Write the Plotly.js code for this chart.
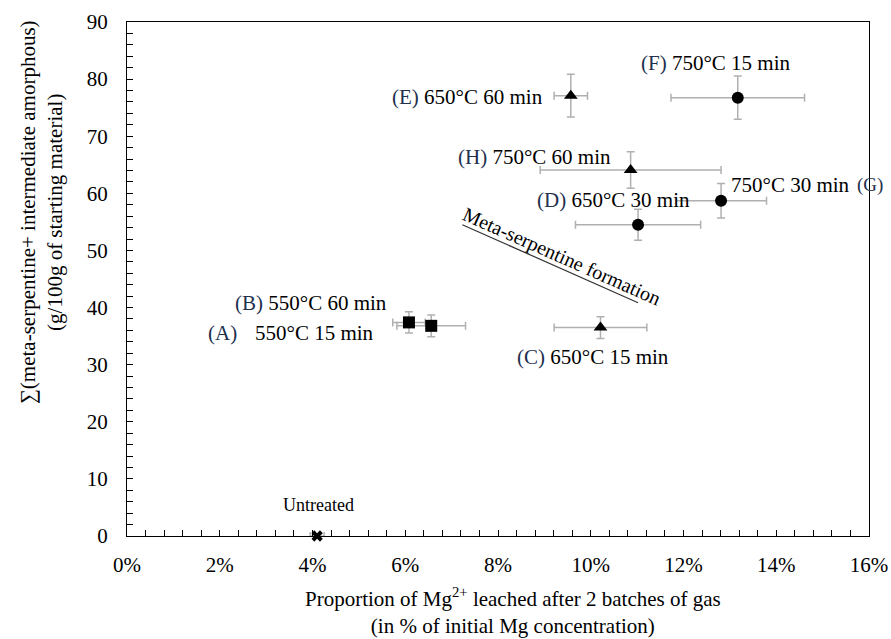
<!DOCTYPE html>
<html>
<head>
<meta charset="utf-8">
<script src="https://cdn.plot.ly/plotly-3.0.1.min.js"></script>
<style>html,body{margin:0;padding:0;background:#fff}#chart{width:891px;height:639px}</style>
</head>
<body>
<div id="chart"></div>
<script>
// Squares: (A) 550°C 15 min, (B) 550°C 60 min
const sqX = [6.56, 6.08];
const sqY = [36.8, 37.4];
const sqXErr = [0.74, 0.35];
const sqYErr = [1.9, 1.85];
// Triangles: (C) 650°C 15 min, (E) 650°C 60 min, (H) 750°C 60 min
const triX = [10.21, 9.57, 10.86];
const triY = [36.5, 77.1, 64.1];
const triXErr = [1.0, 0.36, 1.95];
const triYErr = [1.9, 3.75, 3.2];
// Circles: (D) 650°C 30 min, (F) 750°C 15 min, (G) 750°C 30 min
const cirX = [11.02, 13.17, 12.81];
const cirY = [54.5, 76.75, 58.7];
const cirXErr = [1.35, 1.44, 0.98];
const cirYErr = [2.7, 3.8, 3.0];
// Untreated
const untX = [4.1];
const untY = [0];
const untXErr = [0.15];

const xTickVals = [0, 2, 4, 6, 8, 10, 12, 14, 16];
const yTickVals = [0, 10, 20, 30, 40, 50, 60, 70, 80, 90];

const errStyle = {color: '#b0b0b0', thickness: 1.5, width: 4};
const font = 'Liberation Serif, Times New Roman, serif';
const navy = '#22304f';

function series(x, y, ex, ey, symbol, size) {
  const t = {
    x: x, y: y, type: 'scatter', mode: 'markers',
    marker: {symbol: symbol, size: size, color: '#000'},
    error_x: Object.assign({type: 'data', array: ex, visible: true}, errStyle),
    showlegend: false, hoverinfo: 'skip', cliponaxis: false
  };
  if (ey) t.error_y = Object.assign({type: 'data', array: ey, visible: true}, errStyle);
  return t;
}

const data = [
  series(sqX, sqY, sqXErr, sqYErr, 'square', 12),
  series(triX, triY, triXErr, triYErr, 'triangle-up', 12),
  series(cirX, cirY, cirXErr, cirYErr, 'circle', 12),
  series(untX, untY, untXErr, null, 'x', 10)
];

function lab(x, y, html, extra) {
  return Object.assign({x: x, y: y, xref: 'x', yref: 'y', text: html, showarrow: false,
    font: {family: font, size: 21, color: '#000'}}, extra || {});
}
const P = s => '<span style="color:' + navy + '">' + s + '</span>';

const annotations = [
  lab(7.34, 76.9, P('(E)') + ' 650°C 60 min'),
  lab(12.70, 82.8, P('(F)') + ' 750°C 15 min'),
  lab(8.78, 66.4, P('(H)') + ' 750°C 60 min'),
  lab(12.98, 61.5, '750°C 30 min', {xanchor: 'left'}),
  lab(15.70, 61.5, P('(G)'), {xanchor: 'left', font: {family: font, size: 19, color: '#000'}}),
  lab(10.48, 58.8, P('(D)') + ' 650°C 30 min'),
  lab(3.97, 40.8, P('(B)') + ' 550°C 60 min'),
  lab(2.06, 35.5, P('(A)')),
  lab(4.05, 35.5, '550°C 15 min'),
  lab(10.05, 31.3, P('(C)') + ' 650°C 15 min'),
  lab(4.12, 5.4, 'Untreated', {font: {family: font, size: 18, color: '#000'}}),
  lab(9.37, 49.0, 'Meta-serpentine formation', {textangle: 23.9, font: {family: font, size: 20, color: '#000'}}),
  {xref: 'paper', yref: 'paper', x: 0.52, y: -0.146, yanchor: 'middle', showarrow: false,
   text: 'Proportion of Mg<sup>2+</sup> leached after 2 batches of gas<br>(in % of initial Mg concentration)',
   font: {family: font, size: 21, color: '#000'}},
  {xref: 'paper', yref: 'paper', x: -0.116, y: 0.63, xanchor: 'center', yanchor: 'middle', showarrow: false, textangle: -90,
   text: '∑(meta-serpentine+ intermediate amorphous)<br>(g/100g of starting material)',
   font: {family: font, size: 21, color: '#000'}}
];

const layout = {
  width: 891, height: 639,
  margin: {l: 127, r: 22, t: 22, b: 103},
  paper_bgcolor: '#fff', plot_bgcolor: '#fff',
  font: {family: font, size: 21, color: '#000'},
  xaxis: {
    range: [0, 16], tickvals: xTickVals, ticktext: xTickVals.map(v => v + '%'),
    ticks: 'inside', ticklen: 6, tickcolor: '#000', showgrid: false, zeroline: false,
    showline: true, linecolor: '#000', linewidth: 1, mirror: true,
    ticklabelstandoff: 10,
    tickfont: {family: font, size: 21, color: '#000'},
    minor: {dtick: 0.4, tick0: 0, ticks: 'inside', ticklen: 6, tickcolor: '#000', showgrid: false}
  },
  yaxis: {
    range: [0, 90], tickvals: yTickVals,
    ticks: 'inside', ticklen: 6, tickcolor: '#000', showgrid: false, zeroline: false,
    showline: true, linecolor: '#000', linewidth: 1, mirror: true,
    ticklabelstandoff: 14,
    tickfont: {family: font, size: 21, color: '#000'},
    minor: {dtick: 2, tick0: 0, ticks: 'inside', ticklen: 6, tickcolor: '#000', showgrid: false}
  },
  shapes: [
    {type: 'line', xref: 'x', yref: 'y', x0: 7.23, y0: 54.5, x1: 11.02, y1: 40.85,
     line: {color: '#333', width: 1.2}}
  ],
  annotations: annotations
};

Plotly.newPlot('chart', data, layout, {displayModeBar: false, staticPlot: true});
</script>
</body>
</html>
